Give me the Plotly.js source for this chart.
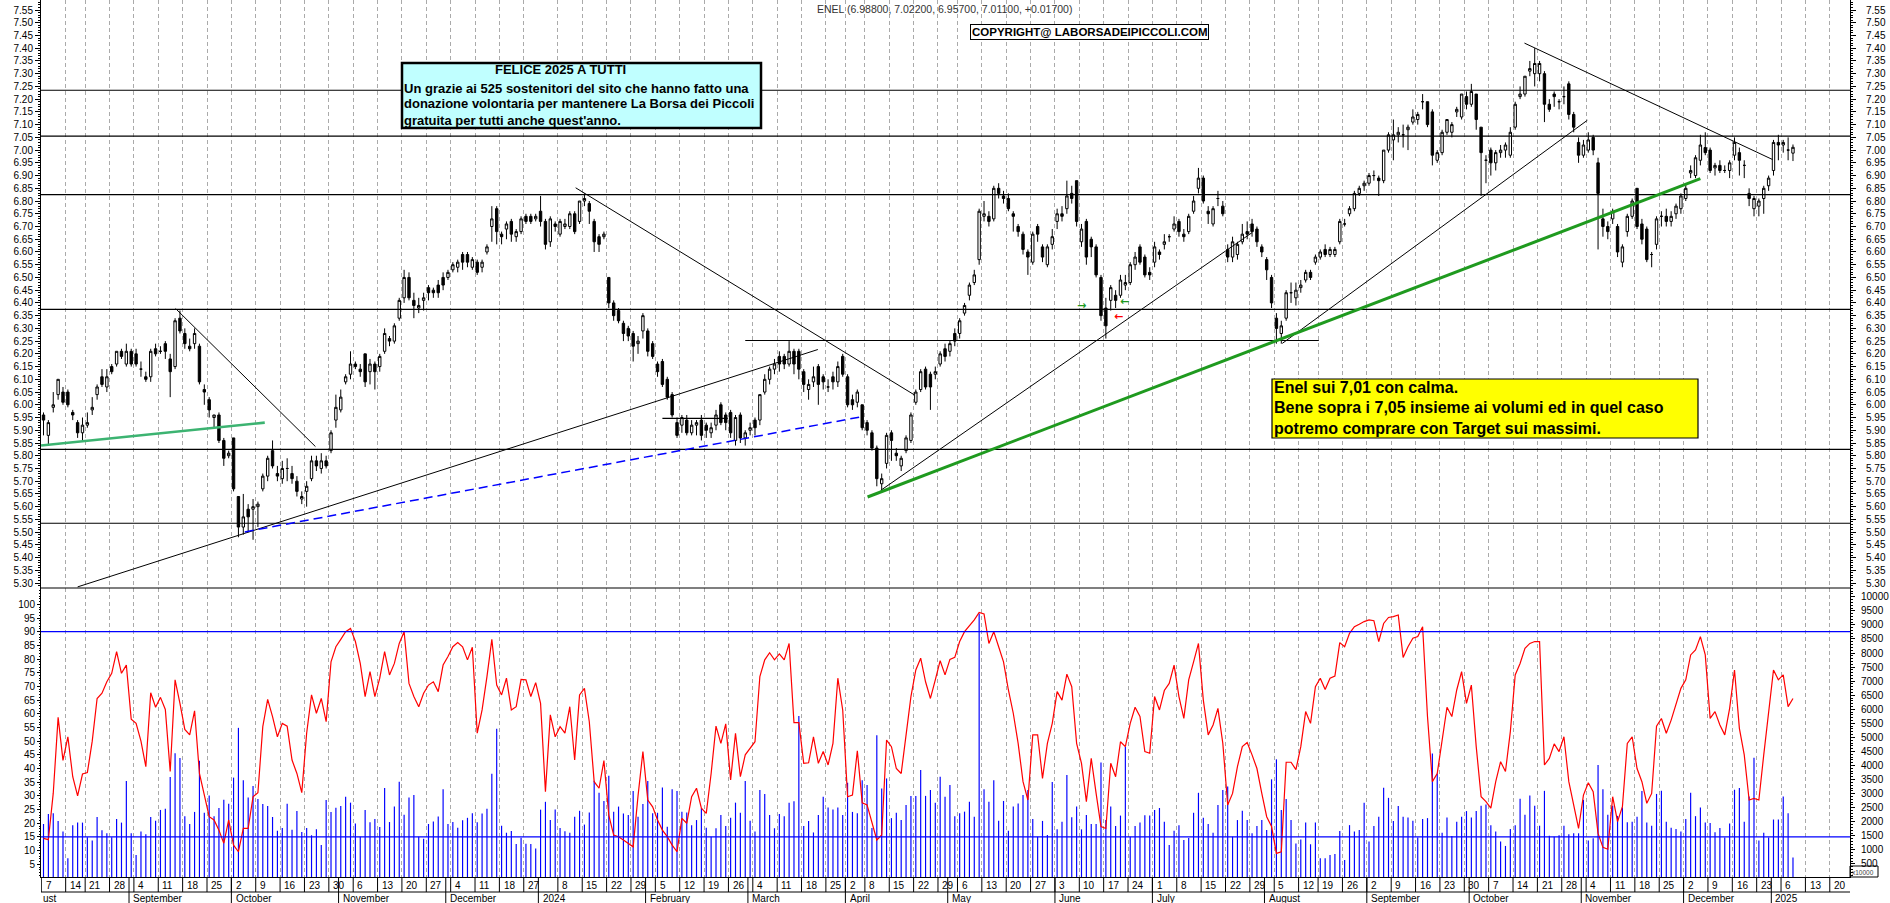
<!DOCTYPE html>
<html><head><meta charset="utf-8">
<script src="https://cdn.plot.ly/plotly-3.0.1.min.js"></script>
<style>html,body{margin:0;padding:0;background:#fff;overflow:hidden}#chart{width:1890px;height:903px}</style>
</head><body><div id="chart"></div>
<script>
// ===== DATA (one entry per trading day, 7 Aug 2023 -> 8 Jan 2025) =====
const open = [
5.96,5.88,5.99,6.04,6.05,6.05,5.97,5.93,5.89,5.92,
5.98,6.04,6.11,6.07,6.15,6.16,6.21,6.16,6.21,6.20,
6.14,6.11,6.11,6.22,6.21,6.24,6.18,6.15,6.34,6.28,
6.23,6.24,6.23,6.06,6.02,5.95,5.96,5.86,5.80,5.87,
5.64,5.52,5.59,5.59,5.60,5.67,5.72,5.82,5.73,5.71,
5.75,5.73,5.70,5.63,5.66,5.71,5.78,5.75,5.78,5.82,
5.94,5.98,6.09,6.12,6.16,6.14,6.20,6.13,6.16,6.15,
6.21,6.26,6.25,6.34,6.42,6.50,6.41,6.38,6.41,6.46,
6.45,6.47,6.50,6.50,6.53,6.54,6.59,6.59,6.54,6.56,
6.54,6.60,6.70,6.77,6.67,6.69,6.72,6.66,6.68,6.74,
6.74,6.73,6.76,6.72,6.64,6.71,6.67,6.70,6.70,6.75,
6.72,6.80,6.79,6.72,6.66,6.66,6.50,6.40,6.37,6.32,
6.30,6.28,6.24,6.29,6.29,6.24,6.16,6.17,6.10,6.04,
5.93,5.92,5.94,5.89,5.92,5.94,5.92,5.89,5.92,6.00,
5.96,5.97,5.86,5.96,5.87,5.90,5.94,5.94,6.05,6.10,
6.14,6.19,6.19,6.16,6.21,6.21,6.13,6.06,6.09,6.15,
6.11,6.07,6.11,6.09,6.19,6.11,6.02,6.01,6.00,5.93,
5.89,5.83,5.69,5.77,5.89,5.81,5.76,5.82,5.86,6.01,
6.06,6.14,6.12,6.12,6.16,6.22,6.21,6.28,6.28,6.36,
6.43,6.48,6.57,6.74,6.74,6.73,6.85,6.82,6.81,6.75,
6.70,6.67,6.60,6.56,6.70,6.62,6.55,6.63,6.72,6.75,
6.77,6.83,6.88,6.64,6.72,6.65,6.62,6.50,6.38,6.41,
6.43,6.43,6.47,6.48,6.55,6.62,6.58,6.52,6.56,6.60,
6.63,6.66,6.69,6.72,6.67,6.68,6.76,6.85,6.89,6.76,
6.71,6.81,6.78,6.61,6.58,6.59,6.64,6.68,6.71,6.69,
6.62,6.57,6.50,6.34,6.28,6.34,6.44,6.42,6.46,6.49,
6.52,6.56,6.58,6.61,6.59,6.59,6.64,6.71,6.75,6.77,
6.83,6.86,6.87,6.90,6.89,6.88,7.00,7.04,7.06,7.06,
7.08,7.11,7.12,7.19,7.19,7.15,6.96,6.99,7.07,7.07,
7.15,7.13,7.21,7.18,7.22,7.09,6.96,7.00,6.95,6.99,
7.00,6.98,7.09,7.21,7.22,7.31,7.30,7.30,7.30,7.18,
7.22,7.19,7.21,7.26,7.14,7.03,6.98,7.00,7.05,6.95,
6.73,6.70,6.73,6.70,6.56,6.68,6.74,6.85,6.71,6.69,
6.59,6.63,6.74,6.74,6.72,6.75,6.77,6.81,6.91,6.90,
6.96,7.01,7.00,6.93,6.94,6.92,6.92,6.98,6.99,6.94,
6.83,6.77,6.78,6.81,6.86,6.92,7.03,7.02,7.00,6.988];
const high = [
5.97,5.94,6.05,6.10,6.07,6.06,5.98,5.94,5.95,5.97,
6.03,6.08,6.14,6.14,6.16,6.21,6.22,6.24,6.22,6.22,
6.17,6.13,6.22,6.24,6.23,6.25,6.20,6.34,6.37,6.30,
6.26,6.30,6.24,6.08,6.03,5.96,5.97,5.87,5.82,5.87,
5.64,5.65,5.61,5.63,5.62,5.73,5.80,5.86,5.76,5.78,
5.79,5.76,5.72,5.66,5.70,5.80,5.80,5.81,5.80,5.90,
6.04,6.06,6.12,6.21,6.17,6.16,6.20,6.18,6.17,6.20,
6.30,6.27,6.32,6.42,6.53,6.52,6.44,6.42,6.44,6.47,
6.46,6.49,6.52,6.53,6.56,6.57,6.60,6.60,6.58,6.57,
6.57,6.63,6.78,6.78,6.68,6.72,6.73,6.69,6.74,6.75,
6.75,6.75,6.82,6.73,6.74,6.72,6.73,6.73,6.76,6.76,
6.80,6.83,6.80,6.73,6.67,6.68,6.50,6.41,6.38,6.33,
6.31,6.29,6.27,6.36,6.30,6.25,6.17,6.18,6.11,6.05,
5.95,5.96,5.96,5.94,5.94,5.96,5.93,5.93,5.98,6.01,
5.97,5.98,5.96,5.97,5.90,5.93,5.95,6.04,6.12,6.15,
6.18,6.21,6.20,6.25,6.22,6.22,6.14,6.10,6.15,6.16,
6.12,6.10,6.13,6.17,6.20,6.12,6.04,6.06,6.00,5.94,
5.90,5.84,5.73,5.89,5.90,5.83,5.80,5.88,5.97,6.06,
6.14,6.15,6.13,6.15,6.21,6.24,6.25,6.30,6.34,6.40,
6.48,6.53,6.77,6.80,6.76,6.86,6.87,6.84,6.83,6.76,
6.71,6.68,6.61,6.68,6.71,6.63,6.63,6.69,6.77,6.78,
6.88,6.86,6.88,6.71,6.73,6.66,6.63,6.51,6.42,6.47,
6.45,6.51,6.51,6.56,6.60,6.63,6.59,6.54,6.64,6.61,
6.67,6.67,6.74,6.73,6.69,6.75,6.82,6.93,6.90,6.78,
6.78,6.84,6.80,6.63,6.66,6.64,6.71,6.72,6.73,6.70,
6.63,6.58,6.51,6.36,6.33,6.45,6.48,6.48,6.49,6.53,
6.53,6.59,6.61,6.63,6.62,6.62,6.73,6.73,6.78,6.84,
6.86,6.88,6.91,6.92,6.90,7.00,7.07,7.12,7.09,7.10,
7.10,7.16,7.15,7.22,7.19,7.16,7.00,7.08,7.12,7.11,
7.17,7.22,7.23,7.26,7.22,7.09,6.98,7.01,7.00,7.02,
7.03,7.09,7.19,7.25,7.29,7.35,7.40,7.35,7.31,7.20,
7.23,7.20,7.25,7.27,7.15,7.05,7.04,7.07,7.06,6.97,
6.77,6.72,6.77,6.71,6.63,6.75,6.81,6.85,6.73,6.70,
6.60,6.74,6.76,6.77,6.76,6.79,6.83,6.87,6.94,6.98,
7.06,7.07,7.01,6.95,6.96,6.94,6.96,7.05,7.01,6.96,
6.85,6.82,6.81,6.86,6.90,7.04,7.06,7.04,7.05,7.022];
const low = [
5.88,5.84,5.97,6.02,6.00,5.99,5.94,5.87,5.86,5.91,
5.96,6.02,6.07,6.05,6.12,6.15,6.18,6.15,6.15,6.15,
6.11,6.09,6.09,6.19,6.20,6.18,6.03,6.14,6.28,6.22,
6.21,6.22,6.08,6.00,5.95,5.91,5.85,5.76,5.79,5.66,
5.48,5.49,5.50,5.47,5.52,5.66,5.70,5.75,5.70,5.69,
5.70,5.69,5.64,5.61,5.60,5.70,5.74,5.73,5.75,5.81,
5.91,5.97,6.08,6.10,6.14,6.11,6.07,6.08,6.06,6.13,
6.20,6.23,6.24,6.33,6.40,6.41,6.34,6.36,6.37,6.41,
6.42,6.42,6.45,6.49,6.52,6.52,6.53,6.54,6.53,6.51,
6.52,6.59,6.64,6.63,6.63,6.65,6.64,6.64,6.67,6.71,
6.71,6.72,6.70,6.61,6.62,6.68,6.66,6.69,6.69,6.67,
6.71,6.78,6.71,6.60,6.60,6.65,6.38,6.33,6.32,6.25,
6.25,6.17,6.20,6.26,6.19,6.18,6.11,6.07,6.02,5.95,
5.87,5.89,5.88,5.88,5.88,5.86,5.87,5.87,5.90,5.92,
5.90,5.87,5.84,5.85,5.84,5.88,5.88,5.92,6.04,6.08,
6.12,6.13,6.14,6.15,6.12,6.10,6.05,6.02,6.07,6.00,
6.06,6.05,6.06,6.07,6.11,5.99,5.98,5.99,5.90,5.88,
5.82,5.68,5.66,5.75,5.78,5.78,5.74,5.81,5.85,6.00,
6.05,6.06,5.98,6.10,6.15,6.17,6.19,6.23,6.26,6.35,
6.41,6.47,6.55,6.72,6.70,6.72,6.81,6.79,6.76,6.68,
6.66,6.59,6.51,6.55,6.64,6.56,6.54,6.61,6.69,6.72,
6.75,6.79,6.70,6.62,6.55,6.58,6.50,6.33,6.26,6.37,
6.38,6.42,6.45,6.47,6.53,6.55,6.50,6.49,6.54,6.57,
6.61,6.64,6.68,6.66,6.64,6.67,6.75,6.83,6.79,6.71,
6.70,6.78,6.74,6.56,6.56,6.57,6.63,6.65,6.66,6.62,
6.58,6.49,6.38,6.24,6.24,6.33,6.40,6.39,6.44,6.48,
6.49,6.55,6.57,6.58,6.58,6.58,6.63,6.70,6.74,6.76,
6.82,6.84,6.86,6.88,6.82,6.87,6.99,6.96,7.03,7.01,
7.00,7.10,7.10,7.16,7.09,6.94,6.95,6.98,7.06,7.05,
7.13,7.12,7.16,7.17,7.08,6.82,6.87,6.90,6.92,6.97,
6.97,6.97,7.08,7.20,7.21,7.29,7.25,7.27,7.11,7.15,
7.17,7.16,7.18,7.12,7.07,6.95,6.97,6.99,6.98,6.61,
6.66,6.65,6.71,6.58,6.54,6.66,6.73,6.69,6.63,6.56,
6.54,6.61,6.70,6.70,6.70,6.73,6.75,6.80,6.89,6.89,
6.94,6.98,6.91,6.90,6.91,6.91,6.89,6.96,6.90,6.89,
6.78,6.74,6.74,6.75,6.84,6.90,6.96,6.99,6.96,6.957];
const close = [
5.94,5.93,6.00,6.10,6.01,6.00,5.96,5.89,5.92,5.93,
5.99,6.07,6.08,6.11,6.13,6.21,6.19,6.21,6.16,6.16,
6.14,6.10,6.21,6.20,6.21,6.21,6.13,6.33,6.29,6.24,
6.22,6.28,6.09,6.05,5.98,5.96,5.86,5.79,5.81,5.67,
5.52,5.56,5.56,5.60,5.61,5.72,5.79,5.76,5.72,5.75,
5.75,5.71,5.66,5.64,5.68,5.78,5.76,5.78,5.76,5.89,
5.99,6.03,6.11,6.16,6.15,6.13,6.09,6.16,6.13,6.19,
6.28,6.25,6.31,6.41,6.50,6.42,6.39,6.39,6.42,6.44,
6.44,6.44,6.47,6.52,6.55,6.56,6.56,6.56,6.57,6.52,
6.56,6.62,6.73,6.68,6.66,6.71,6.67,6.68,6.73,6.72,
6.72,6.74,6.72,6.63,6.73,6.70,6.72,6.71,6.75,6.68,
6.80,6.81,6.76,6.64,6.63,6.67,6.40,6.35,6.33,6.28,
6.27,6.23,6.25,6.35,6.21,6.19,6.13,6.08,6.03,5.96,
5.88,5.95,5.89,5.92,5.93,5.88,5.90,5.91,5.96,5.93,
5.93,5.89,5.95,5.87,5.89,5.91,5.91,6.04,6.10,6.14,
6.16,6.16,6.16,6.21,6.16,6.14,6.08,6.08,6.11,6.08,
6.09,6.07,6.09,6.15,6.12,6.00,6.00,6.05,5.91,5.90,
5.83,5.71,5.71,5.88,5.86,5.80,5.79,5.87,5.96,6.05,
6.13,6.07,6.07,6.13,6.20,6.19,6.24,6.25,6.33,6.39,
6.47,6.51,6.76,6.75,6.72,6.85,6.83,6.81,6.77,6.74,
6.68,6.61,6.58,6.67,6.67,6.58,6.62,6.66,6.75,6.74,
6.82,6.81,6.72,6.69,6.58,6.62,6.51,6.35,6.31,6.46,
6.41,6.49,6.48,6.55,6.58,6.56,6.51,6.51,6.62,6.59,
6.64,6.66,6.71,6.68,6.66,6.74,6.80,6.89,6.80,6.75,
6.77,6.81,6.75,6.58,6.64,6.63,6.67,6.67,6.68,6.64,
6.60,6.53,6.40,6.30,6.31,6.44,6.44,6.45,6.47,6.52,
6.50,6.58,6.60,6.59,6.61,6.61,6.72,6.71,6.77,6.83,
6.85,6.87,6.90,6.90,6.88,7.00,7.06,7.06,7.07,7.06,
7.09,7.13,7.14,7.19,7.10,6.98,6.99,7.07,7.12,7.10,
7.16,7.22,7.18,7.23,7.12,6.99,6.96,6.95,6.99,7.00,
7.02,7.07,7.18,7.22,7.29,7.32,7.34,7.34,7.18,7.16,
7.21,7.19,7.21,7.14,7.09,6.98,7.02,7.04,7.00,6.83,
6.70,6.68,6.76,6.60,6.62,6.74,6.80,6.70,6.65,6.57,
6.59,6.73,6.74,6.72,6.74,6.78,6.82,6.85,6.92,6.97,
7.02,6.99,6.92,6.94,6.92,6.92,6.95,7.03,6.96,6.94,
6.81,6.81,6.80,6.85,6.89,7.03,7.02,7.03,7.00,7.011];
// volume (units x10000, right lower axis)
const volume = [
1920,2275,2300,2025,1650,700,1880,1970,1970,1450,
1330,2170,1700,1590,1450,2100,1970,3450,1590,820,
1650,1560,2170,2040,2420,2460,3590,4440,4270,2200,
1920,2350,4170,2320,2930,2200,2490,2780,2640,3570,
5340,3480,2860,3270,2810,2630,2560,2170,1680,1780,
2640,1720,2380,1640,1780,1520,1730,1170,2770,2350,
2500,2560,2890,2680,1940,1470,2420,1980,2100,1810,
3200,1990,2540,3420,2250,2860,2950,1470,1400,1920,
2010,2190,3160,1920,1990,1790,2050,2140,2300,1980,
2290,2460,3710,5310,1860,1610,1670,1210,1430,1220,
1210,1050,2430,2710,2060,2440,1780,1660,1610,2180,
2390,1900,2330,3460,3030,2740,3640,2360,2540,2290,
2240,3090,2180,2630,3450,2300,2320,3220,1820,3160,
3090,2360,2330,1880,2060,2480,1790,1470,1770,2240,
1850,2140,2680,2320,3450,2040,1650,3130,2990,2240,
1770,2280,2200,2680,2730,5760,1850,2030,1620,2240,
2890,2510,2440,2510,2240,3390,2350,2300,3480,3310,
1780,5080,3180,3540,2130,2320,2060,2600,2920,2920,
3840,2920,3130,2680,3600,2890,3310,2200,2300,2360,
2710,2180,9410,3160,2710,3480,2040,2740,1680,2540,
2650,2950,3130,2100,1470,2030,1530,3410,1730,2000,
3660,2160,2540,1730,2240,1920,1920,4110,2060,2540,
1850,2220,4670,1470,1850,1970,2230,2220,2420,2490,
2000,1170,1680,1880,1350,1420,2320,3030,2140,1920,
1610,2600,3130,3250,1470,2060,2390,2060,1590,1850,
2060,1710,3510,4220,2420,2810,2060,1230,1370,1970,
1200,1970,700,700,820,850,1670,640,1880,1650,
1710,2680,1300,1850,2180,3210,2850,2030,2560,2180,
2150,2040,1440,2100,2130,4430,3720,1610,2150,1490,
2000,2180,2380,2150,2380,2570,2610,1880,1650,1300,
1140,1740,1880,2820,2250,2930,2570,1860,3100,1500,
1470,1520,1860,1560,1590,1590,2780,1330,1410,4020,
3160,2250,2570,2210,2510,1980,2000,2180,3090,1970,
1860,2990,3100,2000,1790,1740,1650,2100,3030,2200,
2510,1970,1960,1630,1780,1440,1940,3140,3200,2000,
2900,4280,1330,1610,1440,2080,2080,2900,2300,730];
// oscillator (left lower axis, 0-100)
const oscillator = [
14.5,14,31,58.7,43,51.6,37,30,38,38.5,
50,65.6,67.5,71.7,74.8,82.7,74.8,77.8,58,56.5,
50,40.7,67.7,62.4,66,61.6,38.9,72.4,63.8,54.3,
52.3,61.1,38.2,29.7,22.4,21.2,17.5,12.7,21.2,12,
9.6,18.1,18.1,29.7,31.2,55.3,65.3,59,51.6,56.5,
55.5,43.1,38.2,31.2,52.9,66.9,60.2,65.6,57.1,79,
84.5,87.2,90,91.2,86.4,78.4,66.3,75.4,66.3,73,
82.7,74.2,78.4,85.7,90,71.1,66.3,62.6,67.5,70.5,
71.7,68.1,77.8,80.9,84.5,86,84.5,79.7,84.3,52.9,
61.4,73.6,87.2,70.5,66.9,73,61.4,62.6,72.6,72.4,
66.3,71.4,63.8,31.5,59.6,51.6,55.3,52.9,62.6,43.1,
66.9,69.3,57.1,35.2,32.8,42.9,23,15.7,15.1,13.9,
12.7,11.4,30,46.2,28.5,26,21.2,17.5,15.1,12,
9.6,21.8,20,29.7,32.8,25.5,23.6,38.2,55.5,49.2,
56.3,35.8,52.9,37,45,47.4,49.8,73.6,79.7,82.3,
79.7,81.9,79.7,85.7,56.8,56.8,41.9,42.1,51.6,41.9,
46.2,41.3,49.2,73,61.4,29.7,30.3,46.5,27.5,26.7,
20.6,13.9,15.7,50.4,48,40,38.2,52.9,66.3,76,
80.3,71.7,65.6,72.4,79.4,74.2,79.9,80.6,86.4,90,
92.1,94.3,97,96.5,85.7,90,84.5,79,68.7,60.2,
49.2,35.2,28.5,52.3,52.3,36.4,49.2,56.5,68.1,65,
74.5,69.9,49.2,41.9,27.9,43.7,30.9,18.8,18.1,41.9,
37,49.8,48,56.5,62.4,59,46.2,45.6,66.3,61.4,
68.5,71.1,77.8,66.3,58.3,72.4,79,85.7,65,52.3,
55.9,62,49.2,26.7,30.9,40.7,48,49.5,45,40,
30.9,22.4,18.8,9,9.6,42.3,42.3,39.6,48,60.8,
56.5,69.9,73,68.9,73,73.8,86,84.5,89.4,91.8,
92.7,93.7,94.3,94,86.4,93,95.2,95.5,96.1,80.6,
84.5,87.6,88.2,91.8,59,35.2,38.2,51,62.4,59,
68.7,75.4,63.8,70.5,48,29.7,27.9,25.5,35.2,42.5,
38.9,53.5,74.2,78.4,83.9,85.7,86.4,86.4,41.3,43.7,
49,46.2,51.6,35.2,26.1,18.1,30.3,34.8,31.5,16.3,
11.2,10.5,29.7,20.6,26.1,49.2,51.6,40,35.2,27.3,
30.9,55.5,58.3,52.9,57.7,63.8,69.3,72.4,81.5,83.3,
88.2,81.5,58.3,60.8,55.9,52.3,62,76,54.7,45,
28.5,29.1,28.5,45,59.6,76,72.4,74.2,62.6,65.6];

// first trading day of each week (trading-day index) and its day-of-month label
const weekTickIdx = [0,5,9,14,19,24,29,34,39,44,49,54,59,64,69,74,79,84,89,94,99,106,111,116,121,126,131,136,141,146,151,156,161,165,169,174,179,184,188,193,198,203,208,213,218,223,228,233,238,243,248,253,258,262,267,272,277,282,287,292,297,302,307,312,317,322,327,332,337,342,347,352,357,362,367];
const weekTickLabel = ['7','14','21','28','4','11','18','25','2','9','16','23','30','6','13','20','27','4','11','18','27','8','15','22','29','5','12','19','26','4','11','18','25','2','8','15','22','29','6','13','20','27','3','10','17','24','1','8','15','22','29','5','12','19','26','2','9','16','23','30','7','14','21','28','4','11','18','25','2','9','16','23','6','13','20'];
// first trading day of each month
const monthTickIdx = [18,39,61,83,102,124,145,165,186,208,228,251,272,293,316,337,355];
const monthTickLabel = ['September','October','November','December','2024','February','March','April','May','June','July','August','September','October','November','December','2025'];
const priceTickStart = 5.30, priceTickStep = 0.05;
const oscTickVals = [5,10,15,20,25,30,35,40,45,50,55,60,65,70,75,80,85,90,95,100];
const volTickVals = [500,1000,1500,2000,2500,3000,3500,4000,4500,5000,5500,6000,6500,7000,7500,8000,8500,9000,9500,10000];

// drawn levels and trend lines (trading-day index / price)
const supportLevels = [7.235, 7.055, 6.825, 6.375, 5.825, 5.535];
const shortLevelPrice = [6.2525, 5.947];
const shortLevelFrom = [144.0, 127.0];
const shortLevelTo = [261.7, 140.4];
const trendStartIdx = [27.1, 7.0, 109.2, 171.8, 254.2, 303.9];
const trendStartPrice = [6.378, 5.285, 6.852, 5.664, 6.241, 7.420];
const trendEndIdx = [55.8, 158.9, 178.7, 248.0, 316.8, 354.8];
const trendEndPrice = [5.836, 6.217, 6.039, 6.676, 7.117, 6.963];
const blueTrendIdx = [41.3, 168.1], blueTrendPrice = [5.501, 5.954];
const lightGreenIdx = [-0.5, 45.4], lightGreenPrice = [5.840, 5.930];
const greenTrendIdx = [169.1, 340.0], greenTrendPrice = [5.638, 6.888];
const oscLevels = [90, 15];
const arrowIdx = [212.9, 221.9, 220.6], arrowPrice = [6.388, 6.405, 6.345], arrowGlyph = ['\u2192','\u2190','\u2190'];

const titleText = 'ENEL (6.98800, 7.02200, 6.95700, 7.01100, +0.01700)';
const copyrightText = 'COPYRIGHT@ LABORSADEIPICCOLI.COM';
const cyanTitle = 'FELICE 2025 A TUTTI';
const cyanLines = ['Un grazie ai 525 sostenitori del sito che hanno fatto una','donazione volontaria per mantenere La Borsa dei Piccoli',"gratuita per tutti anche quest'anno."];
const yellowLines = ['Enel sui 7,01 con calma.','Bene sopra i 7,05 insieme ai volumi ed in quel caso','potremo comprare con Target sui massimi.'];

// ===== CHART =====
const W = 1890, H = 903, ML = 41, MR = 40, MT = 0, MB = 26;
const PW = W - ML - MR, PH = H - MT - MB;
const px = x => (x - ML) / PW;          // pixel -> paper x
const py = y => (PH + MT - y) / PH;     // pixel -> paper y
const splitY = py(588);
const idx = close.map((_, i) => i);
const F = 'Arial, "Liberation Sans", sans-serif';

const traces = [
  {type:'candlestick', x: idx, open, high, low, close, xaxis:'x', yaxis:'y',
   increasing:{line:{color:'#000', width:1}, fillcolor:'#ffffff'},
   decreasing:{line:{color:'#000', width:1}, fillcolor:'#000000'},
   whiskerwidth:0, hoverinfo:'skip', showlegend:false},
  {type:'scatter', x:[0], y:[6], xaxis:'x', yaxis:'y2', mode:'markers', marker:{opacity:0}, hoverinfo:'skip', showlegend:false},
  {type:'bar', x: idx, y: volume, xaxis:'x', yaxis:'y3', width:0.24, marker:{color:'#0000ff', line:{width:0}}, hoverinfo:'skip', showlegend:false},
  {type:'scatter', mode:'lines', x: idx, y: oscillator, xaxis:'x', yaxis:'y4', line:{color:'#ff0000', width:1.2}, hoverinfo:'skip', showlegend:false}
];

const shapes = [];
supportLevels.forEach(p => shapes.push({type:'line', xref:'paper', x0:0, x1:1, yref:'y', y0:p, y1:p, line:{color:'#000', width:1.2}}));
shortLevelPrice.forEach((p, k) => shapes.push({type:'line', xref:'x', x0:shortLevelFrom[k], x1:shortLevelTo[k], yref:'y', y0:p, y1:p, line:{color:'#000', width:1.2}}));
trendStartIdx.forEach((s, k) => shapes.push({type:'line', xref:'x', yref:'y', x0:s, y0:trendStartPrice[k], x1:trendEndIdx[k], y1:trendEndPrice[k], line:{color:'#000', width:1}}));
shapes.push({type:'line', xref:'x', yref:'y', x0:blueTrendIdx[0], y0:blueTrendPrice[0], x1:blueTrendIdx[1], y1:blueTrendPrice[1], line:{color:'#0000ff', width:1.5, dash:'9px,5px'}});
shapes.push({type:'line', xref:'x', yref:'y', x0:lightGreenIdx[0], y0:lightGreenPrice[0], x1:lightGreenIdx[1], y1:lightGreenPrice[1], line:{color:'#3cb371', width:2.6}});
shapes.push({type:'line', xref:'x', yref:'y', x0:greenTrendIdx[0], y0:greenTrendPrice[0], x1:greenTrendIdx[1], y1:greenTrendPrice[1], line:{color:'#1f9a1f', width:3}});
// panel separator
shapes.push({type:'line', xref:'paper', x0:0, x1:1, yref:'paper', y0:splitY, y1:splitY, line:{color:'#000', width:1.2}});
oscLevels.forEach(v => shapes.push({type:'line', xref:'paper', x0:0, x1:1, yref:'y4', y0:v, y1:v, line:{color:'#0000ff', width:1.3}}));
// date boxes under the axis
const rowY = py(892), bottomY = py(903);
shapes.push({type:'line', xref:'paper', x0:0, x1:1, yref:'paper', y0:rowY, y1:rowY, line:{color:'#000', width:1}});
weekTickIdx.forEach(i => shapes.push({type:'line', xref:'x', x0:i-0.45, x1:i-0.45, yref:'paper', y0:0, y1:rowY, line:{color:'#000', width:1}}));
monthTickIdx.forEach(i => shapes.push({type:'line', xref:'x', x0:i-0.45, x1:i-0.45, yref:'paper', y0:0, y1:bottomY, line:{color:'#000', width:1}}));
// small box for the volume multiplier label
shapes.push({type:'rect', xref:'paper', yref:'paper', x0:px(1850), x1:px(1878), y0:py(877), y1:py(866), line:{color:'#000', width:1}, fillcolor:'rgba(0,0,0,0)'});
// text boxes
shapes.push({type:'rect', xref:'paper', yref:'paper', x0:px(402), x1:px(761), y0:py(128), y1:py(63), fillcolor:'#c0ffff', line:{color:'#000', width:2.5}});
shapes.push({type:'rect', xref:'paper', yref:'paper', x0:px(1272), x1:px(1698), y0:py(438), y1:py(379), fillcolor:'#ffff00', line:{color:'#000', width:1.2}});

const ann = [];
const dayY = py(885), monY = py(898);
weekTickIdx.forEach((i, k) => ann.push({xref:'x', yref:'paper', x:i, y:dayY, xanchor:'left', yanchor:'middle', xshift:0, text:weekTickLabel[k], showarrow:false, font:{family:F, size:10, color:'#000'}}));
monthTickIdx.forEach((i, k) => ann.push({xref:'x', yref:'paper', x:i, y:monY, xanchor:'left', yanchor:'middle', xshift:0, text:monthTickLabel[k], showarrow:false, font:{family:F, size:10, color:'#000'}}));
ann.push({xref:'paper', yref:'paper', x:0, y:monY, xanchor:'left', yanchor:'middle', text:'ust', showarrow:false, font:{family:F, size:10, color:'#000'}});
ann.push({xref:'paper', yref:'paper', x:px(1850), y:py(872), xanchor:'left', yanchor:'middle', text:'x10000', showarrow:false, font:{family:F, size:6.5, color:'#444'}});
ann.push({xref:'paper', yref:'paper', x:px(944), y:py(9), xanchor:'center', yanchor:'middle', text:titleText, showarrow:false, font:{family:F, size:10.5, color:'#333'}});
ann.push({xref:'paper', yref:'paper', x:px(1089), y:py(32), xanchor:'center', yanchor:'middle', text:copyrightText, showarrow:false, bgcolor:'#fff', bordercolor:'#000', borderwidth:1, borderpad:1, font:{family:F, size:11.5, color:'#000', weight:'bold'}});
ann.push({xref:'paper', yref:'paper', x:px(560), y:py(70), xanchor:'center', yanchor:'middle', text:cyanTitle, showarrow:false, font:{family:F, size:13, color:'#000', weight:'bold'}});
[88, 104, 120].forEach((yy, k) => ann.push({xref:'paper', yref:'paper', x:px(402), y:py(yy), xanchor:'left', yanchor:'middle', text:cyanLines[k], showarrow:false, font:{family:F, size:13, color:'#000', weight:'bold'}}));
[387, 407, 428].forEach((yy, k) => ann.push({xref:'paper', yref:'paper', x:px(1272), y:py(yy), xanchor:'left', yanchor:'middle', text:yellowLines[k], showarrow:false, font:{family:F, size:16, color:'#000', weight:'bold'}}));
const arrowColor = ['#1f9a1f', '#1f9a1f', '#ff0000'];
arrowIdx.forEach((i, k) => ann.push({xref:'x', yref:'y', x:i, y:arrowPrice[k], text:arrowGlyph[k], showarrow:false, font:{family:'DejaVu Sans', size:11, color:arrowColor[k], weight:'bold'}}));

const tickFont = {family:F, size:10, color:'#000'};
const priceAxis = {
  range:[5.2807, 7.5893], tickmode:'linear', tick0:priceTickStart, dtick:priceTickStep, tickformat:'.2f',
  ticks:'outside', ticklen:5, tickwidth:1, tickcolor:'#000', showline:true, linecolor:'#000', linewidth:1,
  showgrid:false, zeroline:false, tickfont:tickFont, fixedrange:true,
  minor:{ticks:'outside', ticklen:2, tickcolor:'#000', tickmode:'linear', tick0:priceTickStart, dtick:0.01, showgrid:false}
};
const layout = {
  width:W, height:H, margin:{l:ML, r:MR, t:MT, b:MB, autoexpand:false},
  paper_bgcolor:'#fff', plot_bgcolor:'#fff', showlegend:false, font:{family:F},
  xaxis:{domain:[0,1], range:[-0.513, 370.7], anchor:'y3', showticklabels:false, ticks:'',
         tickmode:'array', tickvals:weekTickIdx.map(i => i - 0.45), showgrid:true, gridcolor:'#aaaaaa', gridwidth:1, griddash:'4px,3px',
         showline:true, linecolor:'#000', linewidth:1, zeroline:false, rangeslider:{visible:false}, fixedrange:true},
  yaxis:Object.assign({}, priceAxis, {domain:[splitY, 1], anchor:'x', side:'left'}),
  yaxis2:Object.assign({}, priceAxis, {overlaying:'y', anchor:'x', side:'right', ticklabelstandoff:8}),
  yaxis3:{domain:[0, splitY], anchor:'x', side:'right', range:[35.6, 10313], tickmode:'array', tickvals:volTickVals, tickformat:'d',
          ticks:'outside', ticklen:4, tickcolor:'#000', showline:true, linecolor:'#000', showgrid:false, zeroline:false,
          tickfont:tickFont, ticklabelstandoff:4, fixedrange:true,
          minor:{ticks:'outside', ticklen:2, tickcolor:'#000', tickmode:'linear', tick0:0, dtick:100, showgrid:false}},
  yaxis4:{overlaying:'y3', anchor:'x', side:'left', range:[0.37, 105.96], tickmode:'array', tickvals:oscTickVals,
          ticks:'outside', ticklen:3, tickcolor:'#000', showline:true, linecolor:'#000', showgrid:false, zeroline:false,
          tickfont:tickFont, fixedrange:true,
          minor:{ticks:'outside', ticklen:1.5, tickcolor:'#000', tickmode:'linear', tick0:0, dtick:1, showgrid:false}},
  shapes, annotations:ann
};
Plotly.newPlot('chart', traces, layout, {staticPlot:true, displayModeBar:false});
</script></body></html>
